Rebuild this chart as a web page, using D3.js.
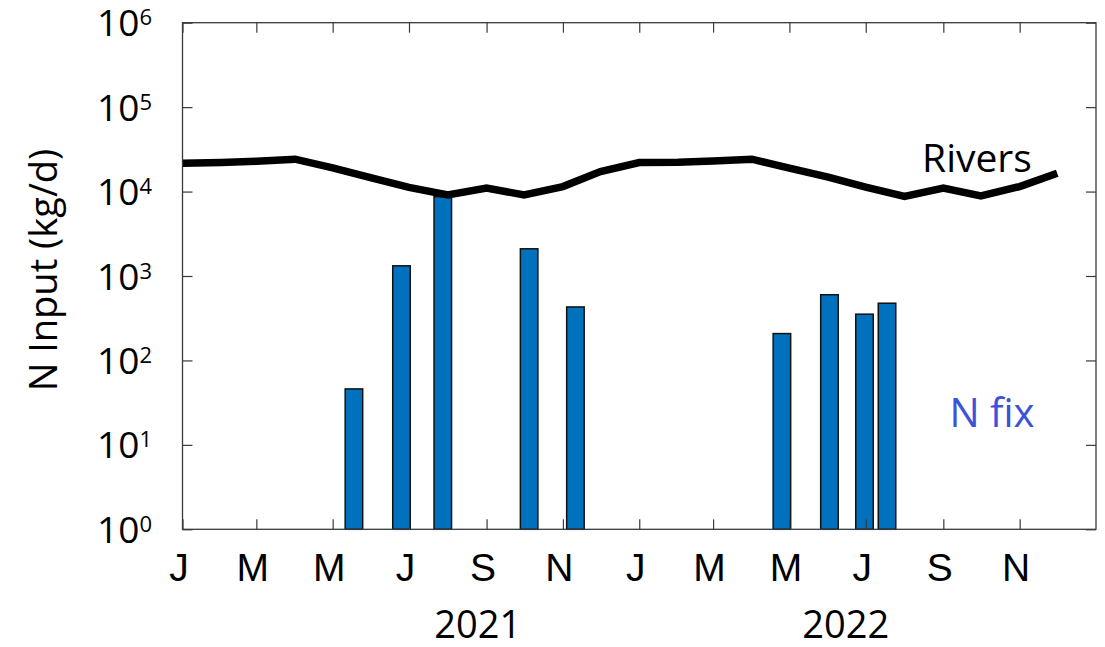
<!DOCTYPE html>
<html>
<head>
<meta charset="utf-8">
<script src="https://cdn.jsdelivr.net/npm/d3@7"></script>
<style>
  html, body { margin: 0; padding: 0; background: #fff; }
  svg { display: block; font-family: "Open Sans", "Noto Sans", sans-serif; }
</style>
</head>
<body>
<svg id="chart" width="1105" height="647"></svg>
<script>
// Monthly river nitrogen load (kg N / day), first of each month
const riverDates = [
  "2021-01-01","2021-02-01","2021-03-01","2021-04-01","2021-05-01","2021-06-01",
  "2021-07-01","2021-08-01","2021-09-01","2021-10-01","2021-11-01","2021-12-01",
  "2022-01-01","2022-02-01","2022-03-01","2022-04-01","2022-05-01","2022-06-01",
  "2022-07-01","2022-08-01","2022-09-01","2022-10-01","2022-11-01","2022-12-01"
];
const riverValues = [
  21700, 22050, 22800, 24200, 19100, 14500,
  11200, 9140, 10970, 9140, 11460, 17260,
  22070, 22200, 23000, 24200, 19000, 14800,
  11300, 8770, 10970, 8890, 11460, 16520
];

// Nitrogen fixation estimates per survey (kg N / day)
const fixDates = [
  "2021-05-18","2021-06-25","2021-07-28","2021-10-05","2021-11-11",
  "2022-04-25","2022-06-02","2022-06-30","2022-07-18"
];
const fixValues = [46, 1320, 8700, 2100, 430, 208, 600, 353, 476];

// Axis ticks
const monthTickLabels = ["J", "M", "M", "J", "S", "N"];
const monthTickMonths = [0, 2, 4, 6, 8, 10];
const tickYears = [2021, 2022];
const yearLabels = [
  { text: "2021", date: "2021-08-25" },
  { text: "2022", date: "2022-06-15" }
];
const yExponents = [0, 1, 2, 3, 4, 5, 6];

const svg = d3.select("#chart");
const margin = { left: 182.5, right: 1096, top: 22.7, bottom: 529.3 };

const parse = d3.utcParse("%Y-%m-%d");
const x = d3.scaleUtc()
  .domain([Date.UTC(2021, 0, 1), Date.UTC(2023, 0, 1)])
  .range([margin.left, margin.right]);
const y = d3.scaleLog()
  .domain([1, 1e6])
  .range([margin.bottom, margin.top]);

const axisColor = "#3a3a3a";
const tickLen = 10;
const DAY = 86400000;
const barHalfWidth = 7 * DAY;

// Bars (N fixation)
svg.append("g").selectAll("rect")
  .data(fixDates.map((d, i) => ({ date: parse(d), value: fixValues[i] })))
  .join("rect")
  .attr("x", d => x(new Date(+d.date - barHalfWidth)))
  .attr("width", d => x(new Date(+d.date + barHalfWidth)) - x(new Date(+d.date - barHalfWidth)))
  .attr("y", d => y(d.value))
  .attr("height", d => y(1) - y(d.value))
  .attr("fill", "#0072BD")
  .attr("stroke", "#111")
  .attr("stroke-width", 1.5);

// River line
const line = d3.line()
  .x(d => x(d.date))
  .y(d => y(d.value));
svg.append("path")
  .datum(riverDates.map((d, i) => ({ date: parse(d), value: riverValues[i] })))
  .attr("d", line)
  .attr("fill", "none")
  .attr("stroke", "#000")
  .attr("stroke-width", 7.5)
  .attr("stroke-linejoin", "miter");

// Month ticks
const monthTicks = [];
tickYears.forEach(yr => monthTickMonths.forEach((m, i) => {
  monthTicks.push({ date: new Date(Date.UTC(yr, m, 1)), label: monthTickLabels[i] });
}));
const labelOf = new Map(monthTicks.map(t => [+t.date, t.label]));

const xAxisBottom = d3.axisBottom(x)
  .tickValues(monthTicks.map(t => t.date))
  .tickSizeInner(-tickLen)
  .tickSizeOuter(0)
  .tickPadding(0)
  .tickFormat(d => labelOf.get(+d));
const gx = svg.append("g")
  .attr("transform", `translate(0,${margin.bottom})`)
  .call(xAxisBottom);
gx.select(".domain").remove();
gx.selectAll(".tick line").attr("stroke", axisColor).attr("stroke-width", 1.2);
gx.selectAll(".tick text")
  .attr("y", 52)
  .attr("dy", 0)
  .attr("dx", -4)
  .attr("fill", "#000")
  .attr("font-size", 39);

const xAxisTop = d3.axisTop(x)
  .tickValues(monthTicks.map(t => t.date))
  .tickSizeInner(-tickLen)
  .tickSizeOuter(0)
  .tickFormat("");
const gxt = svg.append("g")
  .attr("transform", `translate(0,${margin.top})`)
  .call(xAxisTop);
gxt.select(".domain").remove();
gxt.selectAll(".tick line").attr("stroke", axisColor).attr("stroke-width", 1.2);

// Log ticks on left and right
const yTickVals = yExponents.map(e => Math.pow(10, e));
const yAxisLeft = d3.axisLeft(y)
  .tickValues(yTickVals)
  .tickSizeInner(-tickLen)
  .tickSizeOuter(0)
  .tickFormat("");
const gy = svg.append("g")
  .attr("transform", `translate(${margin.left},0)`)
  .call(yAxisLeft);
gy.select(".domain").remove();
gy.selectAll(".tick line").attr("stroke", axisColor).attr("stroke-width", 1.2);

const yAxisRight = d3.axisRight(y)
  .tickValues(yTickVals)
  .tickSizeInner(-tickLen)
  .tickSizeOuter(0)
  .tickFormat("");
const gyr = svg.append("g")
  .attr("transform", `translate(${margin.right},0)`)
  .call(yAxisRight);
gyr.select(".domain").remove();
gyr.selectAll(".tick line").attr("stroke", axisColor).attr("stroke-width", 1.2);

// Power-of-ten labels
const ylab = svg.append("g").selectAll("text")
  .data(yExponents)
  .join("text")
  .attr("x", 152)
  .attr("y", e => y(Math.pow(10, e)) + 13.5)
  .attr("text-anchor", "end")
  .attr("fill", "#000");
ylab.append("tspan").attr("font-size", 37).text("10");
ylab.append("tspan").attr("font-size", 22).attr("dy", -11).text(e => e);

// Axes box
svg.append("rect")
  .attr("x", margin.left)
  .attr("y", margin.top)
  .attr("width", margin.right - margin.left)
  .attr("height", margin.bottom - margin.top)
  .attr("fill", "none")
  .attr("stroke", axisColor)
  .attr("stroke-width", 1.3);

// Year labels
svg.append("g").selectAll("text")
  .data(yearLabels)
  .join("text")
  .attr("x", d => x(parse(d.date)))
  .attr("y", 638)
  .attr("text-anchor", "middle")
  .attr("font-size", 38)
  .attr("fill", "#000")
  .text(d => d.text);

// Y axis title
svg.append("text")
  .attr("transform", "translate(57,270) rotate(-90)")
  .attr("text-anchor", "middle")
  .attr("font-size", 38)
  .attr("fill", "#000")
  .text("N Input (kg/d)");

// Series annotations
svg.append("text")
  .attr("x", 977)
  .attr("y", 172)
  .attr("text-anchor", "middle")
  .attr("font-size", 39)
  .attr("fill", "#000")
  .text("Rivers");

svg.append("text")
  .attr("x", 992)
  .attr("y", 427)
  .attr("text-anchor", "middle")
  .attr("font-size", 40)
  .attr("fill", "#3b52d9")
  .text("N fix");
</script>
</body>
</html>
